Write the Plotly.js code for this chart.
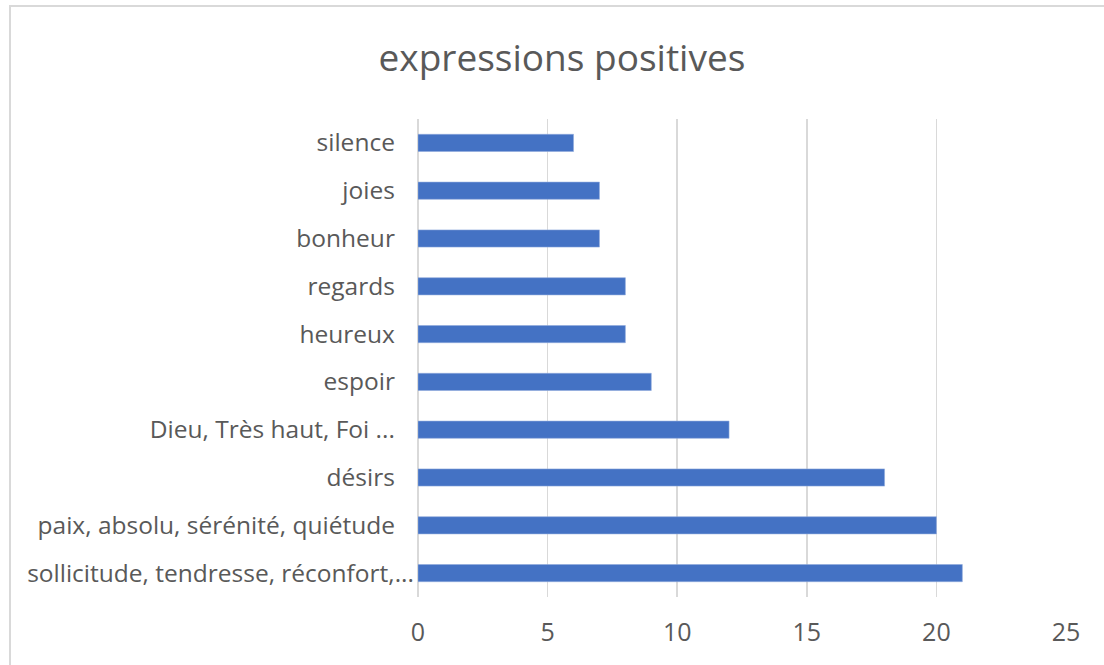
<!DOCTYPE html>
<html>
<head>
<meta charset="utf-8">
<script src="https://cdn.plot.ly/plotly-3.0.1.min.js"></script>
<style>
html,body{margin:0;padding:0;background:#fff;overflow:hidden;}
#frame{position:absolute;left:9px;top:5px;width:1200px;height:800px;border-top:2px solid #d9d9d9;border-left:2px solid #d9d9d9;pointer-events:none;z-index:5;}
#chart{position:absolute;left:0;top:0;width:1104px;height:665px;}
</style>
</head>
<body>
<div id="chart"></div>
<div id="frame"></div>
<script>
var categories = [
  "sollicitude, tendresse, réconfort,...",
  "paix, absolu, sérénité, quiétude",
  "désirs",
  "Dieu, Très haut, Foi ...",
  "espoir",
  "heureux",
  "regards",
  "bonheur",
  "joies",
  "silence"
];
var values = [21, 20, 18, 12, 9, 8, 8, 7, 7, 6];
var xTicks = [0, 5, 10, 15, 20, 25];
var chartTitle = "expressions positives";

// Excel lets the longest (truncated) label run closer to the axis
var pad = "\u00a0\u00a0\u00a0";
var yTickText = categories.map(function (c, i) { return i === 0 ? c : c + pad; });

var trace = {
  type: "bar",
  orientation: "h",
  y: categories,
  x: values,
  marker: {color: "#4472C4", line: {color: "#8faadc", width: 0.6}},
  hoverinfo: "x+y"
};

var layout = {
  width: 1104,
  height: 665,
  paper_bgcolor: "#ffffff",
  plot_bgcolor: "#ffffff",
  margin: {l: 418, r: 38, t: 119, b: 68, pad: 0},
  bargap: 0.64,
  showlegend: false,
  font: {family: "Open Sans, sans-serif", color: "#595959", size: 24},
  title: {
    text: chartTitle,
    x: 0.509, xanchor: "center",
    y: 0.912, yanchor: "middle",
    font: {family: "Open Sans, sans-serif", size: 37, color: "#595959"}
  },
  xaxis: {
    range: [0, 25],
    tickvals: xTicks,
    ticktext: xTicks.map(String),
    showgrid: true,
    gridcolor: "#d9d9d9",
    gridwidth: 1.5,
    zeroline: true,
    zerolinecolor: "#d9d9d9",
    zerolinewidth: 1.5,
    showline: false,
    ticks: "",
    ticklabelstandoff: 18,
    tickfont: {size: 25, color: "#595959"},
    fixedrange: true
  },
  yaxis: {
    type: "category",
    categoryorder: "array",
    categoryarray: categories,
    tickvals: categories,
    ticktext: yTickText,
    showgrid: false,
    zeroline: false,
    showline: false,
    ticks: "",
    ticklabelstandoff: 3,
    tickfont: {size: 24.5, color: "#595959"},
    fixedrange: true
  }
};

Plotly.newPlot("chart", [trace], layout, {displayModeBar: false, staticPlot: true});
</script>
</body>
</html>
